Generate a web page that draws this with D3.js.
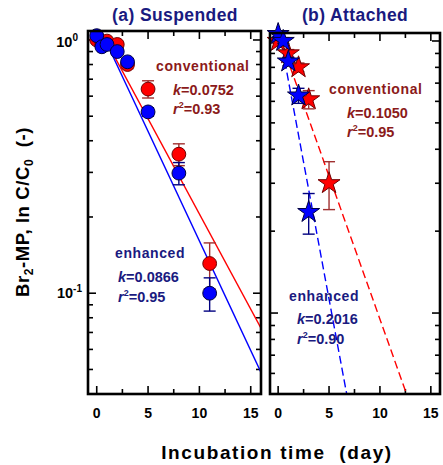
<!DOCTYPE html>
<html><head><meta charset="utf-8">
<script src="https://cdn.jsdelivr.net/npm/d3@7"></script>
<style>
html,body{margin:0;padding:0;background:#fff;}
text{font-family:"Liberation Sans",Arial,sans-serif;font-weight:bold;white-space:pre;}
</style></head>
<body><svg id="c" width="443" height="465"></svg>
<script>
// ---- data ----
const susTime      = [0, 0.5, 1, 2, 3, 5, 8, 11];
const susConv      = [1.0, 0.96, 0.99, 0.96, 0.80, 0.64, 0.354, 0.131];
const susConvErr   = [0.02, 0.02, 0.02, 0.03, 0.03, 0.05, 0.035, 0.027];
const susEnh       = [1.04, 0.94, 0.96, 0.90, 0.82, 0.52, 0.298, 0.100];
const susEnhErr    = [0.02, 0.02, 0.02, 0.02, 0.02, 0.02, 0.03, 0.015];
const attTimeConv  = [0, 1, 2, 3, 5];
const attConv      = [1.0, 0.90, 0.80, 0.61, 0.30];
const attConvErr   = [0.02, 0.03, 0.03, 0.047, 0.06];
const attTimeEnh   = [0, 0.5, 1, 2, 3];
const attEnh       = [1.06, 1.0, 0.84, 0.63, 0.235];
const attEnhErr    = [0.02, 0.02, 0.03, 0.04, 0.04];
// fitted lines: [[t0, v0], [t1, v1]]
const susFitConv = [[0, 1.16], [16, 0.0728]];
const susFitEnh  = [[0, 1.18], [16, 0.0487]];
const attFitConv = [[0, 1.07], [16, 0.0222]];
const attFitEnh  = [[0, 1.14], [16, 0.00069]];
const xTicksMajor = [0, 5, 10, 15];
const xTicksMinor = [2.5, 7.5, 12.5];
const yTicksMajor = [0.1, 1];
const yTicksMinor = [0.05, 0.06, 0.07, 0.08, 0.09, 0.2, 0.3, 0.4, 0.5, 0.6, 0.7, 0.8, 0.9];

const RED = "#ff0000", BLUE = "#0000ff";
const RED_DARK = "#8b1a1a", NAVY = "#1a1a80";
const RED_ERR = "#a03030", BLUE_ERR = "#000080";

const svg = d3.select("#c");

function panel(id, xs, ys, opts) {
  const [x0, x1] = xs.range(), [y1, y0] = ys.range();
  const g = svg.append("g");
  g.append("clipPath").attr("id", "clip" + id).append("rect")
    .attr("x", x0).attr("y", y0).attr("width", x1 - x0).attr("height", y1 - y0);
  // ticks
  const tk = g.append("g").attr("stroke", "#000").attr("stroke-width", 1.6);
  const addX = (vals, len) => vals.forEach(v => {
    tk.append("line").attr("x1", xs(v)).attr("x2", xs(v)).attr("y1", y1).attr("y2", y1 - len);
    tk.append("line").attr("x1", xs(v)).attr("x2", xs(v)).attr("y1", y0).attr("y2", y0 + len);
  });
  addX(xTicksMajor, 8); addX(xTicksMinor, 5);
  const addY = (vals, len) => vals.filter(v => ys(v) < y1 - 1 && ys(v) > y0 + 1).forEach(v => {
    tk.append("line").attr("y1", ys(v)).attr("y2", ys(v)).attr("x1", x0).attr("x2", x0 + len);
    tk.append("line").attr("y1", ys(v)).attr("y2", ys(v)).attr("x1", x1).attr("x2", x1 - len);
  });
  addY(yTicksMajor, 8); addY(yTicksMinor, 5);
  // x tick labels
  g.selectAll(".xl").data(xTicksMajor).join("text")
    .attr("x", d => xs(d)).attr("y", 418).attr("text-anchor", "middle")
    .attr("font-size", 14).text(d => d);
  // fit lines
  const lg = g.append("g").attr("clip-path", `url(#clip${id})`).attr("fill", "none");
  const line = d3.line().x(d => xs(d[0])).y(d => ys(d[1]));
  opts.fits.forEach(f => lg.append("path").datum(f.pts).attr("d", line)
    .attr("stroke", f.color).attr("stroke-width", 1.4)
    .attr("stroke-dasharray", f.dash || null));
  // series
  opts.series.forEach(s => {
    const eg = g.append("g").attr("stroke", s.err).attr("stroke-width", 1.4);
    s.t.forEach((t, i) => {
      const x = xs(t), v = s.v[i], e = s.e[i];
      const ya = ys(v + e), yb = ys(v - e);
      eg.append("line").attr("x1", x).attr("x2", x).attr("y1", ya).attr("y2", yb);
      eg.append("line").attr("x1", x - 6).attr("x2", x + 6).attr("y1", ya).attr("y2", ya);
      eg.append("line").attr("x1", x - 6).attr("x2", x + 6).attr("y1", yb).attr("y2", yb);
    });
    const sym = d3.symbol().type(s.star ? d3.symbolStar : d3.symbolCircle).size(s.star ? 150 : 150);
    g.append("g").selectAll("path").data(s.t).join("path")
      .attr("transform", (t, i) => `translate(${xs(t)},${ys(s.v[i])})`)
      .attr("d", sym).attr("fill", s.fill).attr("stroke", s.stroke).attr("stroke-width", 1);
  });
  // frame
  g.append("rect").attr("x", x0).attr("y", y0).attr("width", x1 - x0).attr("height", y1 - y0)
    .attr("fill", "none").attr("stroke", "#000").attr("stroke-width", 2.6);
}

const xA = d3.scaleLinear([-0.85, 16], [88, 261]);
const yA = d3.scaleLog([0.04, 1.085], [394, 31]);
const xB = d3.scaleLinear([-0.8, 15.9], [270, 440]);
const yB = d3.scaleLog([0.0504, 1.07], [394, 33]);

panel("A", xA, yA, {
  fits: [{pts: susFitConv, color: RED}, {pts: susFitEnh, color: BLUE}],
  series: [
    {t: susTime, v: susConv, e: susConvErr, fill: RED, stroke: "#700000", err: RED_ERR},
    {t: susTime, v: susEnh, e: susEnhErr, fill: BLUE, stroke: "#000040", err: BLUE_ERR}
  ]
});
panel("B", xB, yB, {
  fits: [{pts: attFitConv, color: RED, dash: "8,4"}, {pts: attFitEnh, color: BLUE, dash: "8,4"}],
  series: [
    {t: attTimeConv, v: attConv, e: attConvErr, fill: RED, stroke: "#700000", err: RED_ERR, star: true},
    {t: attTimeEnh, v: attEnh, e: attEnhErr, fill: BLUE, stroke: "#000040", err: BLUE_ERR, star: true}
  ]
});

// y tick labels (left panel)
function powLabel(x, y, exp) {
  const t = svg.append("text").attr("x", x).attr("y", y).attr("text-anchor", "end").attr("font-size", 14.5);
  t.append("tspan").text("10");
  t.append("tspan").attr("dy", -6).attr("font-size", 10).text(exp);
}
powLabel(78, 47, "0");
powLabel(82, 298, "-1");

// titles
svg.append("text").attr("x", 175).attr("y", 21).attr("text-anchor", "middle").attr("font-size", 17.5)
  .attr("letter-spacing", 0.4).attr("fill", NAVY).text("(a) Suspended");
svg.append("text").attr("x", 355).attr("y", 21).attr("text-anchor", "middle").attr("font-size", 17.5)
  .attr("letter-spacing", 0.4).attr("fill", NAVY).text("(b) Attached");

// annotations
function annot(x, y, color, lines) {
  const [name, k, r2] = lines;
  svg.append("text").attr("x", x[0]).attr("y", y[0]).attr("fill", color).attr("font-size", 14)
    .attr("letter-spacing", 0.6).text(name);
  const tk = svg.append("text").attr("x", x[1]).attr("y", y[1]).attr("fill", color).attr("font-size", 14.5);
  tk.append("tspan").attr("font-style", "italic").text("k");
  tk.append("tspan").text("=" + k);
  const tr = svg.append("text").attr("x", x[1]).attr("y", y[2]).attr("fill", color).attr("font-size", 14.5);
  tr.append("tspan").attr("font-style", "italic").text("r");
  tr.append("tspan").attr("dy", -6).attr("font-size", 9).text("2");
  tr.append("tspan").attr("dy", 6).text("=" + r2);
}
annot([156, 173], [71, 95, 114], RED_DARK, ["conventional", "0.0752", "0.93"]);
annot([115, 118], [258, 282, 302], NAVY, ["enhanced", "0.0866", "0.95"]);
annot([329, 347], [94, 118, 137], RED_DARK, ["conventional", "0.1050", "0.95"]);
annot([289, 297], [301, 324, 344], NAVY, ["enhanced", "0.2016", "0.90"]);

// axis titles
svg.append("text").attr("x", 277).attr("y", 459).attr("text-anchor", "middle").attr("font-size", 19)
  .attr("letter-spacing", 1.6).text("Incubation time  (day)");
const yt = svg.append("text").attr("transform", "translate(29,212) rotate(-90)")
  .attr("text-anchor", "middle").attr("font-size", 18.5).attr("letter-spacing", 0.6);
yt.append("tspan").text("Br");
yt.append("tspan").attr("dy", 4).attr("font-size", 12).text("2");
yt.append("tspan").attr("dy", -4).text("-MP, ln C/C");
yt.append("tspan").attr("dy", 4).attr("font-size", 12).text("0");
yt.append("tspan").attr("dy", -4).text("  (-)");
</script></body></html>
